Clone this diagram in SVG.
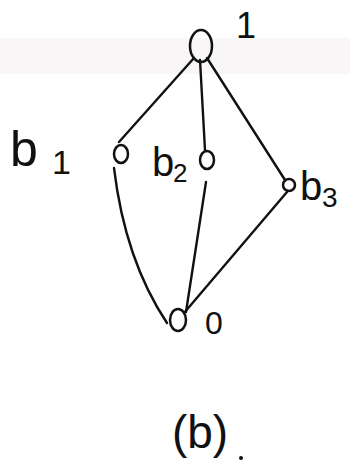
<svg xmlns="http://www.w3.org/2000/svg" width="350" height="466" viewBox="0 0 350 466">
<style>
.n{fill:none;stroke:#111;stroke-width:2.5}
.e{fill:none;stroke:#111;stroke-width:2.4;stroke-linecap:round}
.t{font-family:"Liberation Sans",Arial,sans-serif;fill:#111}
</style>
<rect width="350" height="466" fill="#fff"/>
<rect x="0" y="38" width="350" height="36" fill="#f3f0f0" opacity="0.6"/>
<g id="connectors">
<path class="e" d="M194 58 L119 142"/>
<path class="e" d="M200 60 L205 150"/>
<path class="e" d="M207 58 L285 180"/>
<path class="e" d="M114 168 Q125 260 167 323"/>
<path class="e" d="M206 182 L186 312"/>
<path class="e" d="M287 192 L184 313"/>
</g>
<g id="n1"><ellipse class="n" cx="201" cy="46" rx="11" ry="16"/><text class="t" x="236" y="38" font-size="36">1</text></g>
<g id="nb1"><ellipse class="n" cx="121" cy="154" rx="7" ry="9"/><text class="t" x="10" y="166" font-size="50">b</text><text class="t" x="52" y="174" font-size="34">1</text></g>
<g id="nb2"><ellipse class="n" cx="207" cy="160" rx="7" ry="9"/><text class="t" x="152" y="176" font-size="40">b</text><text class="t" x="173" y="182" font-size="26">2</text></g>
<g id="nb3"><circle class="n" cx="289" cy="185" r="6"/><text class="t" x="300" y="200" font-size="40">b</text><text class="t" x="322" y="207" font-size="28">3</text></g>
<g id="n0"><ellipse class="n" cx="178" cy="320" rx="8" ry="11"/><text class="t" x="205" y="334" font-size="32">0</text></g>
<text class="t" x="200" y="448" font-size="46" text-anchor="middle">(b)</text>
<circle cx="241" cy="458" r="2" fill="#111"/>
</svg>
